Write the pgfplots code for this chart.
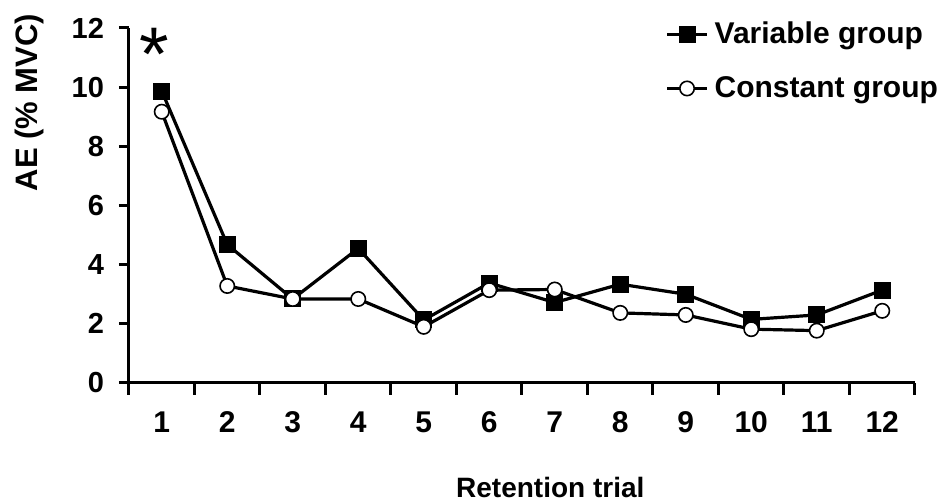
\documentclass[border=0pt]{standalone}
\usepackage{fontspec}
\setmainfont{Liberation Sans}
\usepackage{pgfplots}
\pgfplotsset{compat=1.18}

% Absolute error per retention trial
\pgfplotstableread{
trial ae
1  9.87
2  4.68
3  2.84
4  4.55
5  2.13
6  3.38
7  2.72
8  3.34
9  3.00
10 2.15
11 2.30
12 3.14
}\variablegroup
\pgfplotstableread{
trial ae
1  9.17
2  3.28
3  2.84
4  2.84
5  1.90
6  3.14
7  3.16
8  2.37
9  2.30
10 1.82
11 1.77
12 2.44
}\constantgroup

\begin{document}
\begin{tikzpicture}
\begin{axis}[
  name=ax,
  at={(0,0)}, anchor=south west,
  scale only axis,
  width=393pt, height=177.5pt,
  xmin=0.5, xmax=12.5,
  ymin=0, ymax=12,
  clip=false,
  axis x line*=bottom,
  axis y line*=left,
  axis line style={line width=1.5pt,-},
  tick align=outside,
  ytick={0,2,...,12},
  xtick={1,...,12},
  xticklabels={1,2,3,4,5,6,7,8,9,10,11,12},
  major x tick style={draw=none},
  minor xtick={0.5,1.5,...,12.5},
  minor tick length=6pt,
  major tick length=5pt,
  every tick/.style={line width=1.5pt,black},
  /pgf/number format/assume math mode=true,
  ticklabel style={font=\bfseries\fontsize{14.5}{17}\selectfont},
  xticklabel style={anchor=north, yshift=-5pt, text height=11pt, text depth=0pt,
    font=\bfseries\fontsize{15}{17}\selectfont},
  yticklabel style={xshift=-4pt},
  xlabel={Retention trial},
  ylabel={AE (\% MVC)},
  label style={font=\bfseries\fontsize{14}{17}\selectfont},
  xlabel style={at={(axis description cs:0.536,0)}, anchor=center, yshift=-52pt},
  ylabel style={at={(axis description cs:-0.126,0.79)}, anchor=center,
    font=\bfseries\fontsize{15.5}{18}\selectfont},
  legend style={at={(axis description cs:0.682,1.03)}, anchor=north west,
    draw=none, fill=none, font=\bfseries\fontsize{15}{18}\selectfont,
    row sep=11pt, inner sep=0pt,
    /tikz/every odd column/.append style={column sep=1pt}},
  legend cell align=left,
  legend image code/.code={%
    \draw[mark repeat=2,mark phase=2]
      plot coordinates {(0pt,0pt) (10pt,0pt) (20pt,0pt)};},
]
\addplot[black, line width=1.6pt, mark=square*, mark size=4pt,
  mark options={solid, line width=0.5pt, fill=black}]
  table[x=trial, y=ae] {\variablegroup};
\addlegendentry{Variable group}
\addplot[black, line width=1.6pt, mark=*, mark size=3.6pt,
  mark options={solid, line width=0.8pt, fill=white}]
  table[x=trial, y=ae] {\constantgroup};
\addlegendentry{Constant group}
\node[inner sep=0pt, anchor=north, font=\fontsize{38}{40}\selectfont]
  at (axis cs:0.88,12.0) {*};
\end{axis}
\pgfresetboundingbox
\path[use as bounding box]
  ([xshift=-64.5pt,yshift=-60pt]ax.south west) rectangle
  ([xshift=410.5pt,yshift=191.5pt]ax.south west);
\end{tikzpicture}
\end{document}
